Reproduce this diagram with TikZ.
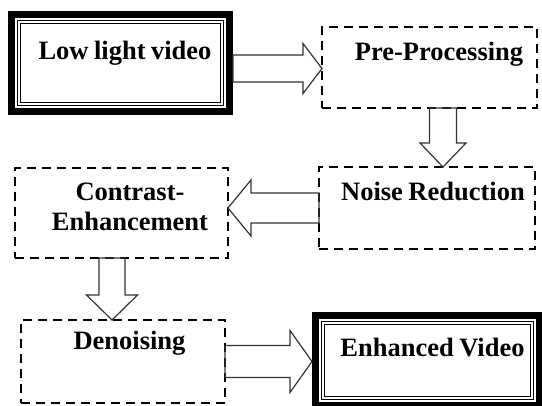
\documentclass[tikz,border=0pt]{standalone}
\usepackage{fontspec}
\setmainfont{Liberation Serif}
\usetikzlibrary{calc}
\tikzstyle{dashbox} = [rectangle, draw, dash pattern=on 9pt off 6pt, line width=1.4pt, inner sep=0pt, outer sep=0pt, align=center]
\tikzstyle{dblbox} = [rectangle, draw, line width=7pt, inner sep=0pt, outer sep=3.5pt, align=center]
\tikzstyle{fat} = [draw=black!80, line width=1.2pt, line join=miter]
\tikzstyle{thinframe} = [draw, line width=1.3pt]
\tikzset{textpad/.style={execute at begin node={\spaceskip=5.5pt\relax\hspace*{#1}}}}

% hollow block arrow: start, end, shaft half width, head half width, head length
\newcommand{\fatarrow}[5]{%
  \coordinate (fa-s) at (#1);
  \coordinate (fa-e) at (#2);
  \coordinate (fa-h) at ($(fa-e)!#5pt!(fa-s)$);
  \path [fat] ($(fa-s)!#3pt!90:(fa-e)$) -- ($(fa-h)!#3pt!90:(fa-e)$)
    -- ($(fa-h)!#4pt!90:(fa-e)$) -- (fa-e) -- ($(fa-h)!#4pt!-90:(fa-e)$)
    -- ($(fa-h)!#3pt!-90:(fa-e)$) -- ($(fa-s)!#3pt!-90:(fa-e)$) -- cycle;
}

\begin{document}
\begin{tikzpicture}[x=1pt,y=-1pt,font=\bfseries\fontsize{26.5}{30}\selectfont]
  \clip (0,0) rectangle (542,406);

  \node [dblbox, textpad=9pt, text width=218pt, text height=45.5pt, text depth=51.5pt] (low) at (120.5,63) {Low light video};
  \node [dashbox, textpad=19pt, text width=215pt, text height=34pt, text depth=47pt] (pre) at (429.5,67.5) {Pre-Processing};
  \node [dashbox, textpad=12pt, text width=216pt, text height=34pt, text depth=48pt] (noise) at (427,208) {Noise Reduction};
  \node [dashbox, textpad=17pt, text width=213pt, text height=33pt, text depth=57pt] (contrast) at (121.5,213) {Contrast-\\\hspace*{17pt}Enhancement};
  \node [dashbox, textpad=13pt, text width=204pt, text height=30pt, text depth=53pt] (denoise) at (123,361.5) {Denoising};
  \node [dblbox, textpad=10pt, text width=224pt, text height=41.5pt, text depth=48.5pt] (enh) at (427.5,360.5) {Enhanced Video};

  % inner lines of the double frames
  \foreach \n in {low,enh} {
    \path [thinframe] ([shift={(9.5,9.5)}]\n.north west) rectangle ([shift={(-9.5,-9.5)}]\n.south east);
    \path [thinframe] ([shift={(12.5,12.5)}]\n.north west) rectangle ([shift={(-12.5,-12.5)}]\n.south east);
  }

  \coordinate (a1) at ([yshift=-5.5pt]low.east);
  \fatarrow{a1}{pre.west |- a1}{13.5}{25}{19}
  \coordinate (a2) at ([xshift=13.5pt]pre.south);
  \fatarrow{a2}{a2 |- noise.north}{13.5}{23}{24}
  \coordinate (a3) at (noise.west);
  \fatarrow{a3}{contrast.east |- a3}{15}{28}{23}
  \coordinate (a4) at ([xshift=-9.5pt]contrast.south);
  \fatarrow{a4}{a4 |- denoise.north}{13}{25.5}{25}
  \coordinate (a5) at (denoise.east);
  \fatarrow{a5}{enh.west |- a5}{16}{31}{22}
\end{tikzpicture}
\end{document}
